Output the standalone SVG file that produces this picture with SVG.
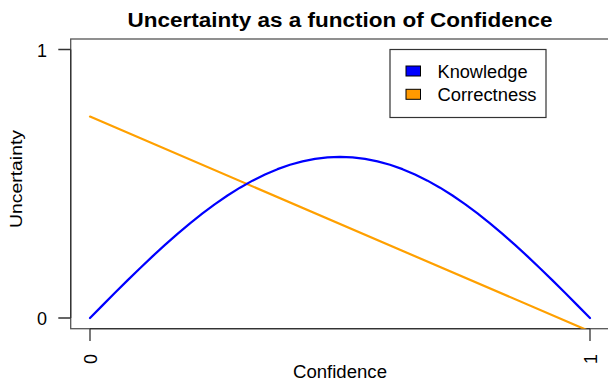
<svg xmlns="http://www.w3.org/2000/svg" width="608" height="382" viewBox="0 0 608 382">
<style>
text{font-family:"Liberation Sans",Arial,sans-serif;fill:#000}
.t{font-size:18px}
.ax{stroke:#333;stroke-width:1.3;fill:none}
.box{stroke:#555;stroke-width:1.3;fill:none}
.cv{fill:none;stroke-width:2.2;stroke-linejoin:round;stroke-linecap:round}
</style>
<defs>
<clipPath id="plot"><rect x="70.7" y="39" width="540" height="289.7"/></clipPath>
</defs>
<rect width="608" height="382" fill="#fff"/>
<g id="title"><text x="127.5" y="27" font-size="19.5" font-weight="bold" textLength="425" lengthAdjust="spacingAndGlyphs">Uncertainty as a function of Confidence</text></g>
<g id="frame">
<rect class="box" x="70.7" y="39" width="545" height="289.7"/>
</g>
<g id="axes">
<path class="ax" d="M70.7 49.5V318M58.3 49.5H70.7M58.3 318H70.7"/>
<path class="ax" d="M90 328.7H590M90 328.7V341M590 328.7V341"/>
<text class="t" x="42" y="56.5" text-anchor="middle">1</text>
<text class="t" x="42" y="324.5" text-anchor="middle">0</text>
<text class="t" transform="translate(97,354) rotate(-90)" text-anchor="end">0</text>
<text class="t" transform="translate(597,354) rotate(-90)" text-anchor="end">1</text>
<text x="293" y="378" font-size="17.5" textLength="94" lengthAdjust="spacingAndGlyphs">Confidence</text>
<text transform="translate(21.5,228) rotate(-90)" font-size="16" textLength="98" lengthAdjust="spacingAndGlyphs">Uncertainty</text>
</g>
<g id="connectors" clip-path="url(#plot)">
<polyline id="correctness" class="cv" stroke="#ffa000" points="90,116.6 590,331.4"/>
<polyline id="knowledge" class="cv" stroke="#0000ff" points="90,318 102.5,305.36 115,292.8 127.5,280.39 140,268.22 152.5,256.35 165,244.86 177.5,233.83 190,223.31 202.5,213.37 215,204.08 227.5,195.5 240,187.67 252.5,180.64 265,174.46 277.5,169.16 290,164.78 302.5,161.35 315,158.88 327.5,157.4 340,156.9 352.5,157.4 365,158.88 377.5,161.35 390,164.78 402.5,169.16 415,174.46 427.5,180.64 440,187.67 452.5,195.5 465,204.08 477.5,213.37 490,223.31 502.5,233.83 515,244.86 527.5,256.35 540,268.22 552.5,280.39 565,292.8 577.5,305.36 590,318"/>
</g>
<g id="legend">
<rect x="390" y="49.5" width="156" height="68" fill="#fff" stroke="#333" stroke-width="1.2"/>
<rect x="406" y="66" width="14.5" height="10" fill="#0000ff" stroke="#000" stroke-width="1"/>
<rect x="406" y="89.3" width="14.5" height="10" fill="#ff9900" stroke="#000" stroke-width="1"/>
<text class="t" x="437.5" y="78.3" textLength="90" lengthAdjust="spacingAndGlyphs">Knowledge</text>
<text class="t" x="437.5" y="100.7" textLength="99" lengthAdjust="spacingAndGlyphs">Correctness</text>
</g>
</svg>
